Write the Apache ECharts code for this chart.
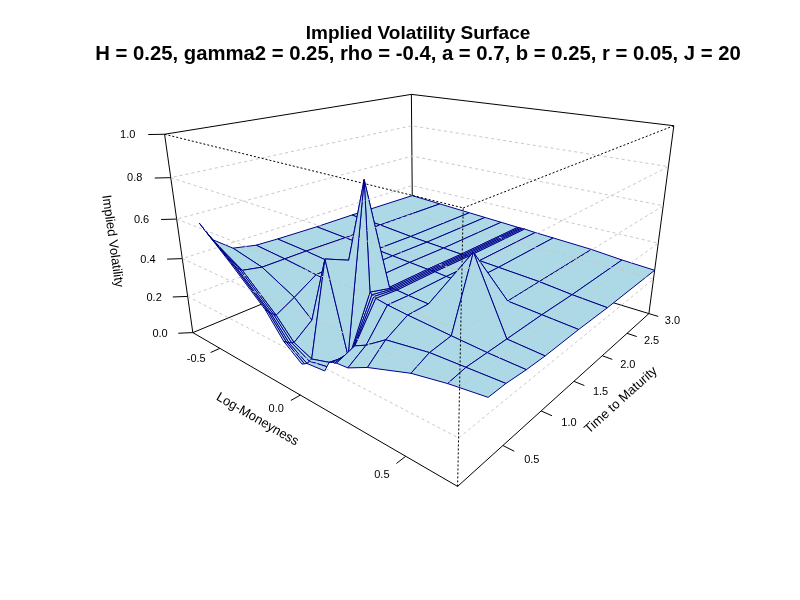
<!DOCTYPE html>
<html>
<head>
<meta charset="utf-8">
<title>Implied Volatility Surface</title>
<script src="https://cdn.jsdelivr.net/npm/echarts@6/dist/echarts.min.js"></script>
<style>
html, body { margin: 0; padding: 0; background: #fff; }
#chart { width: 800px; height: 600px; }
</style>
</head>
<body>
<div id="chart"></div>
<script>
// grid of the surface
var logMoneyness = [-0.7, -0.5, -0.3, -0.2, -0.1, 0.0, 0.01, 0.02, 0.03, 0.04, 0.1, 0.2, 0.4, 0.55, 0.7];
var maturities = [0.2, 0.225, 0.25, 0.275, 0.3, 0.5, 0.75, 1.0, 1.5, 2.0, 3.0];

// implied vol, one row per maturity, one value per log-moneyness (null = no value)
var ivT0200 = [0.55, 0.40, 0.24, 0.12, 0.05, null, null, null, null, null, null, null, null, null, null];
var ivT0225 = [0.525, 0.385, 0.225, 0.11, 0.045, null, null, null, null, null, null, null, null, null, null];
var ivT0250 = [0.50, 0.37, 0.21, 0.10, 0.04, 0.05, null, null, null, null, null, null, null, null, null];
var ivT0275 = [0.475, 0.36, 0.20, 0.095, 0.045, 0.065, null, null, null, null, null, null, null, null, null];
var ivT0300 = [0.45, 0.35, 0.19, 0.09, 0.05, 0.08, 0.085, 0.09, 0.09, 0.095, 0.10, 0.15, 0.22, 0.25, 0.27];
var ivT0500 = [0.37, 0.33, 0.24, 0.16, 0.50, 0.06, 0.07, 0.09, 0.11, 0.13, 0.16, 0.23, 0.26, 0.265, 0.27];
var ivT0750 = [0.345, 0.33, 0.31, 0.30, 0.45, 0.85, 0.33, 0.32, 0.315, 0.31, 0.30, 0.29, 0.275, 0.265, 0.26];
var ivT1000 = [0.34, 0.33, 0.315, 0.31, 0.305, 0.30, 0.30, 0.30, 0.30, 0.30, 0.295, 0.29, 0.60, 0.265, 0.255];
var ivT1500 = [0.335, 0.325, 0.315, 0.31, 0.305, 0.30, 0.30, 0.30, 0.30, 0.30, 0.295, 0.29, 0.275, 0.265, 0.255];
var ivT2000 = [0.335, 0.325, 0.31, 0.305, 0.30, 0.295, 0.295, 0.295, 0.295, 0.295, 0.29, 0.285, 0.275, 0.26, 0.25];
var ivT3000 = [0.33, 0.32, 0.31, 0.305, 0.30, 0.295, 0.295, 0.295, 0.295, 0.295, 0.29, 0.285, 0.275, 0.26, 0.25];
var impliedVol = [ivT0200, ivT0225, ivT0250, ivT0275, ivT0300, ivT0500, ivT0750, ivT1000, ivT1500, ivT2000, ivT3000];

// axis ticks
var xTicks = [-0.5, 0.0, 0.5];
var yTicks = [0.5, 1.0, 1.5, 2.0, 2.5, 3.0];
var zTicks = [0.0, 0.2, 0.4, 0.6, 0.8, 1.0];
var zGridLevels = [0.2, 0.4, 0.6, 0.8];

var xlim = [-0.7, 0.7], ylim = [0, 3], zlim = [0, 1];

var mainTitle = 'Implied Volatility Surface';
var subTitle = 'H = 0.25, gamma2 = 0.25, rho = -0.4, a = 0.7, b = 0.25, r = 0.05, J = 20';
var xLab = 'Log-Moneyness', yLab = 'Time to Maturity', zLab = 'Implied Volatility';

// persp style view
var theta = 40, phi = 20, expand = 0.6, rDist = Math.sqrt(3), dPersp = 1;
var FONT = '"Liberation Sans", Arial, Helvetica, sans-serif';

function project(x, y, z) {
    var xs = (x - (xlim[0] + xlim[1]) / 2) / ((xlim[1] - xlim[0]) / 2);
    var ys = (y - (ylim[0] + ylim[1]) / 2) / ((ylim[1] - ylim[0]) / 2);
    var zs = expand * (z - (zlim[0] + zlim[1]) / 2) / ((zlim[1] - zlim[0]) / 2);
    var th = theta * Math.PI / 180, ph = phi * Math.PI / 180;
    var v0 = xs * Math.cos(th) + ys * Math.sin(th);
    var dd = xs * Math.sin(th) - ys * Math.cos(th);
    var v1 = zs * Math.cos(ph) - dd * Math.sin(ph);
    var v2 = zs * Math.sin(ph) + dd * Math.cos(ph);
    var w = 1 - (v2 - rDist - dPersp) / dPersp;
    return [v0 / w, v1 / w, v2];
}

// window like plot.window(asp = 1) on the projected box
var bx0 = Infinity, bx1 = -Infinity, by0 = Infinity, by1 = -Infinity;
[0, 1].forEach(function (a) {
    [0, 1].forEach(function (b) {
        [0, 1].forEach(function (c) {
            var q = project(xlim[a], ylim[b], zlim[c]);
            bx0 = Math.min(bx0, q[0]); bx1 = Math.max(bx1, q[0]);
            by0 = Math.min(by0, q[1]); by1 = Math.max(by1, q[1]);
        });
    });
});
var region = { left: 78.7, right: 759.7, top: 78.7, bottom: 502.1 };
var sc = Math.min((region.right - region.left) / (bx1 - bx0), (region.bottom - region.top) / (by1 - by0)) / 1.08;
var rcx = (region.left + region.right) / 2, rcy = (region.top + region.bottom) / 2;
var bcx = (bx0 + bx1) / 2, bcy = (by0 + by1) / 2;

// surface facets, far ones first
var facets = [];
for (var j = 0; j < maturities.length - 1; j++) {
    for (var i = 0; i < logMoneyness.length - 1; i++) {
        var zz = [impliedVol[j][i], impliedVol[j][i + 1], impliedVol[j + 1][i + 1], impliedVol[j + 1][i]];
        if (zz.some(function (v) { return v == null; })) continue;
        var pts = [
            [logMoneyness[i], maturities[j], zz[0]],
            [logMoneyness[i + 1], maturities[j], zz[1]],
            [logMoneyness[i + 1], maturities[j + 1], zz[2]],
            [logMoneyness[i], maturities[j + 1], zz[3]]
        ];
        var ctr = project((logMoneyness[i] + logMoneyness[i + 1]) / 2,
            (maturities[j] + maturities[j + 1]) / 2, (zz[0] + zz[1] + zz[2] + zz[3]) / 4);
        facets.push({ pts: pts, depth: ctr[2] });
    }
}
facets.sort(function (a, b) { return a.depth - b.depth; });

// box pieces
var X0 = xlim[0], X1 = xlim[1], Y0 = ylim[0], Y1 = ylim[1], Z0 = zlim[0], Z1 = zlim[1];
var backEdges = [
    [[X0, Y0, Z0], [X0, Y1, Z0]], [[X0, Y1, Z0], [X1, Y1, Z0]],
    [[X0, Y0, Z1], [X0, Y1, Z1]], [[X0, Y1, Z1], [X1, Y1, Z1]],
    [[X0, Y0, Z0], [X0, Y0, Z1]], [[X0, Y1, Z0], [X0, Y1, Z1]], [[X1, Y1, Z0], [X1, Y1, Z1]],
    [[X0, Y0, Z0], [X1, Y0, Z0]], [[X1, Y0, Z0], [X1, Y1, Z0]]
];
var frontEdges = [
    [[X0, Y0, Z1], [X1, Y0, Z1]], [[X1, Y0, Z1], [X1, Y1, Z1]], [[X1, Y0, Z0], [X1, Y0, Z1]]
];
var gridRings = zGridLevels.map(function (z) {
    return [[X0, Y0, z], [X1, Y0, z], [X1, Y1, z], [X0, Y1, z], [X0, Y0, z]];
});

// ticks and labels
var xr = X1 - X0, yr = Y1 - Y0;
var tickLen = 0.03, labDist = 0.075, titleDist = 0.13;
var tickSegs = [], labels = [];
xTicks.forEach(function (t) {
    tickSegs.push([[t, Y0, Z0], [t, Y0 - tickLen * yr, Z0]]);
    labels.push({ p: [t, Y0 - labDist * yr, Z0], text: t.toFixed(1), size: 11 });
});
yTicks.forEach(function (t) {
    tickSegs.push([[X1, t, Z0], [X1 + tickLen * xr, t, Z0]]);
    labels.push({ p: [X1 + labDist * xr, t, Z0], text: t.toFixed(1), size: 11 });
});
zTicks.forEach(function (t) {
    tickSegs.push([[X0, Y0, t], [X0 - tickLen * xr, Y0 - tickLen * yr, t]]);
    labels.push({ p: [X0 - labDist * xr * 0.9, Y0 - labDist * yr * 0.9, t], text: t.toFixed(1), size: 11 });
});
function axisAngle(a, b) {
    var p = project(a[0], a[1], a[2]), q = project(b[0], b[1], b[2]);
    var ang = Math.atan2(q[1] - p[1], q[0] - p[0]);
    if (ang > Math.PI / 2) ang -= Math.PI;
    if (ang < -Math.PI / 2) ang += Math.PI;
    return ang;
}
labels.push({ p: [(X0 + X1) / 2, Y0 - titleDist * yr, Z0], text: xLab, size: 13,
    rot: axisAngle([X0, Y0, Z0], [X1, Y0, Z0]) });
labels.push({ p: [X1 + titleDist * xr, (Y0 + Y1) / 2, Z0], text: yLab, size: 13,
    rot: axisAngle([X1, Y0, Z0], [X1, Y1, Z0]) });
labels.push({ p: [X0 - titleDist * xr, Y0 - titleDist * yr, (Z0 + Z1) / 2], text: zLab, size: 13,
    rot: axisAngle([X0, Y0, Z0], [X0, Y0, Z1]) });

function toPx(api, p) {
    var q = project(p[0], p[1], p[2]);
    return api.coord([q[0], q[1]]);
}
function anchor(p) {
    var q = project(p[0], p[1], p[2]);
    return [q[0], q[1]];
}

function lineSeries(segs, style, z) {
    return {
        type: 'custom', coordinateSystem: 'cartesian2d', silent: true, clip: false, z: z,
        data: segs.map(function (s) { return anchor(s[0]); }),
        renderItem: function (params, api) {
            return {
                type: 'polyline',
                shape: { points: segs[params.dataIndex].map(function (p) { return toPx(api, p); }) },
                style: style
            };
        }
    };
}

var series = [
    lineSeries(backEdges, { stroke: '#000', lineWidth: 1, fill: null }, 1),
    {
        type: 'custom', coordinateSystem: 'cartesian2d', silent: true, clip: false, z: 2,
        data: facets.map(function (f) { return anchor(f.pts[0]); }),
        renderItem: function (params, api) {
            return {
                type: 'polygon',
                shape: { points: facets[params.dataIndex].pts.map(function (p) { return toPx(api, p); }) },
                style: { fill: '#ADD8E6', stroke: '#00008B', lineWidth: 1 }
            };
        }
    },
    lineSeries(gridRings, { stroke: '#C8C8C8', lineWidth: 1, fill: null, lineDash: [3, 3] }, 3),
    lineSeries(frontEdges, { stroke: '#000', lineWidth: 1, fill: null, lineDash: [2, 2] }, 4),
    lineSeries(tickSegs, { stroke: '#000', lineWidth: 1, fill: null }, 5),
    {
        type: 'custom', coordinateSystem: 'cartesian2d', silent: true, clip: false, z: 6,
        data: labels.map(function (l) { return anchor(l.p); }),
        renderItem: function (params, api) {
            var l = labels[params.dataIndex];
            var c = toPx(api, l.p);
            return {
                type: 'text', x: c[0], y: c[1], rotation: l.rot || 0,
                style: {
                    text: l.text, fill: '#000', fontSize: l.size, fontFamily: FONT,
                    align: 'center', verticalAlign: 'middle',
                    textAlign: 'center', textVerticalAlign: 'middle'
                }
            };
        }
    }
];

var chart = echarts.init(document.getElementById('chart'));
chart.setOption({
    animation: false,
    backgroundColor: '#fff',
    title: {
        text: '{a|' + mainTitle + '}\n{b|' + subTitle + '}', left: 413, top: 19, textAlign: 'center',
        textStyle: {
            fontFamily: FONT, color: '#000', fontWeight: 'bold',
            rich: {
                a: { fontSize: 19, fontWeight: 'bold', fontFamily: FONT, color: '#000', lineHeight: 20, align: 'center' },
                b: { fontSize: 20.3, fontWeight: 'bold', fontFamily: FONT, color: '#000', lineHeight: 21, align: 'center' }
            }
        }
    },
    grid: { left: 0, right: 0, top: 0, bottom: 0 },
    xAxis: { type: 'value', show: false, min: bcx - rcx / sc, max: bcx + (800 - rcx) / sc },
    yAxis: { type: 'value', show: false, min: bcy - (600 - rcy) / sc, max: bcy + rcy / sc },
    series: series
});
</script>
</body>
</html>
